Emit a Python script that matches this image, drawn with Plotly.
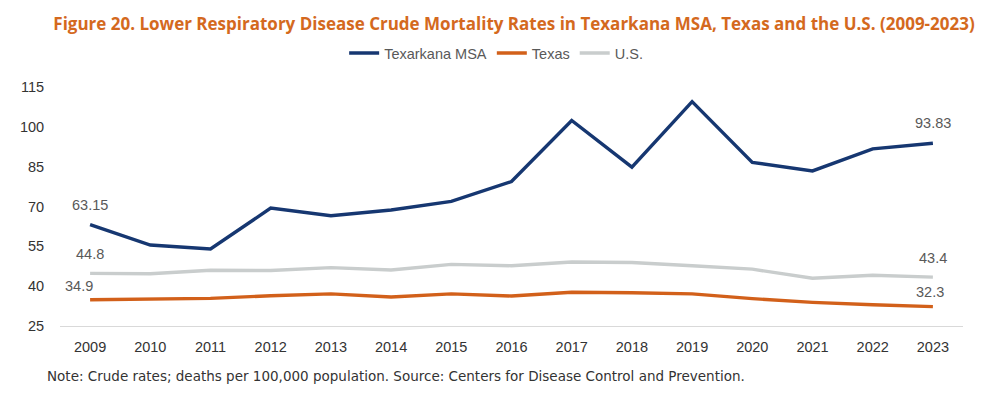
import plotly.graph_objects as go

years = [str(y) for y in range(2009, 2024)]
texarkana = [63.15, 55.5, 54.0, 69.4, 66.5, 68.7, 71.9, 79.4, 102.4, 84.8, 109.5, 86.6, 83.4, 91.7, 93.83]
texas = [34.9, 35.3, 35.4, 36.4, 37.1, 35.9, 37.1, 36.3, 37.7, 37.5, 37.1, 35.3, 33.9, 33.0, 32.3]
us = [44.8, 44.7, 46.0, 45.9, 47.0, 46.1, 48.2, 47.7, 49.1, 48.9, 47.7, 46.4, 43.0, 44.1, 43.4]
y_ticks = [25, 40, 55, 70, 85, 100, 115]

NAVY = "#163771"
ORANGE = "#D2601A"
GRAY = "#C9CDCD"

fig = go.Figure()
fig.add_trace(go.Scatter(x=years, y=texarkana, mode="lines", name="Texarkana MSA",
                         line=dict(color=NAVY, width=3.4)))
fig.add_trace(go.Scatter(x=years, y=texas, mode="lines", name="Texas",
                         line=dict(color=ORANGE, width=3.4)))
fig.add_trace(go.Scatter(x=years, y=us, mode="lines", name="U.S.",
                         line=dict(color=GRAY, width=3.4)))

lab_font = dict(family="Liberation Sans, Arial, sans-serif", size=14.5, color="#595959")
last = len(years) - 1
anns = [
    (0, texarkana[0], "63.15", 0, 20),
    (0, us[0], "44.8", 0, 19),
    (0, texas[0], "34.9", -11, 14),
    (last, texarkana[-1], "93.83", 0, 20),
    (last, us[-1], "43.4", 0, 19),
    (last, texas[-1], "32.3", -3, 15),
]
for x, y, t, xs, ys in anns:
    fig.add_annotation(x=x, y=y, xref="x", yref="y", text=t, showarrow=False,
                       xshift=xs, yshift=ys, font=lab_font)

fig.add_annotation(xref="paper", yref="paper", x=-0.0166, y=-0.209, xanchor="left", yanchor="middle",
                   text="Note: Crude rates; deaths per 100,000 population. Source: Centers for Disease Control and Prevention.",
                   showarrow=False,
                   font=dict(family="DejaVu Sans, sans-serif", size=13.5, color="#333333"))

fig.update_layout(
    width=1005, height=397,
    margin=dict(l=50, r=50, t=79, b=79),
    paper_bgcolor="white", plot_bgcolor="white",
    title=dict(text="<b>Figure 20. Lower Respiratory Disease Crude Mortality Rates in Texarkana MSA, Texas and the U.S. (2009-2023)</b>",
               x=0.5035, xanchor="center", y=0.96, yanchor="middle",
               font=dict(family="Open Sans, sans-serif", size=17, color="#D4691E")),
    legend=dict(orientation="h", x=0.483, xanchor="center", y=1.142, yanchor="middle",
                font=dict(family="Liberation Sans, Arial, sans-serif", size=14.5, color="#595959"),
                itemwidth=30, traceorder="normal"),
    xaxis=dict(type="category", range=[-0.5, 14.5], showgrid=False, zeroline=False,
               showline=True, linecolor="#D9D9D9", linewidth=1.2,
               ticks="outside", ticklen=7, tickcolor="rgba(0,0,0,0)",
               tickfont=dict(family="Liberation Sans, Arial, sans-serif", size=14.5, color="#333333")),
    yaxis=dict(range=[25, 115], tickvals=y_ticks, showgrid=False, zeroline=False,
               showline=False, ticks="outside", ticklen=12, tickcolor="rgba(0,0,0,0)",
               tickfont=dict(family="Liberation Sans, Arial, sans-serif", size=14.5, color="#333333")),
    showlegend=True,
)

fig.write_html("out.html")
